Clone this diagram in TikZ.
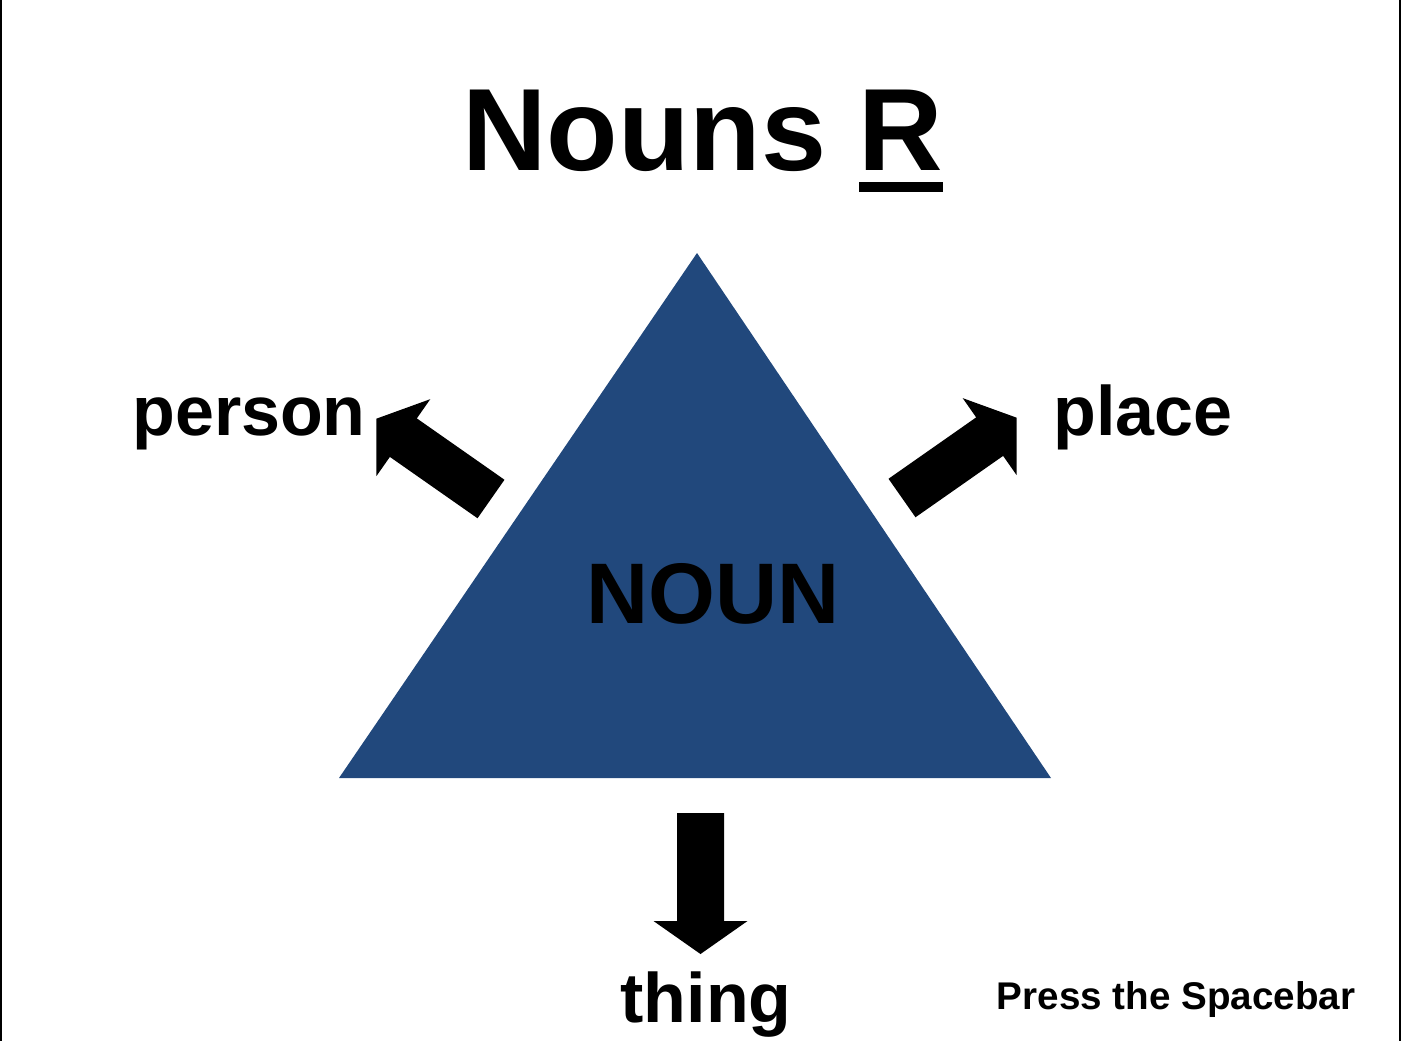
\documentclass[tikz,border=0pt]{standalone}
\usepackage{fontspec}
\setmainfont{Liberation Sans}
\definecolor{Nblue}{RGB}{33,72,124}
\newcommand\ulR{\setbox0\hbox{R}\rlap{\rule[-0.19em]{\wd0}{0.09em}}R}

\begin{document}
\begin{tikzpicture}[x=0.5pt,y=0.5pt,
  lbl/.style={inner sep=0pt,anchor=base,font=\bfseries\fontsize{35}{37}\selectfont},
  blockarrow/.style={fill=black}]
\path[use as bounding box] (0,0) rectangle (1402,-1041);
\draw[line width=1pt] (1,0) -- (1,-1041);
\draw[line width=1pt] (1400,0) -- (1400,-1041);
\node[inner sep=0pt,anchor=base,font=\bfseries\fontsize{58.5}{60}\selectfont] (title) at (703,-170) {Nouns \ulR};
\fill[Nblue] (339,-778) -- (697,-253) -- (1051,-778) -- cycle;
\node[inner sep=0pt,anchor=base,font=\bfseries\fontsize{43}{45}\selectfont] (noun) at (713,-623) {NOUN};
\fill[blockarrow,shift={(491,-499)},rotate=145] (0,-23.5) -- (107,-23.5) -- (107,-47) -- (140,0) -- (107,47) -- (107,23.5) -- (0,23.5) -- cycle;
\fill[blockarrow,shift={(902,-498)},rotate=35] (0,-23.5) -- (107,-23.5) -- (107,-47) -- (140,0) -- (107,47) -- (107,23.5) -- (0,23.5) -- cycle;
\fill[blockarrow,shift={(700.5,-813)},rotate=-90] (0,-23.5) -- (108,-23.5) -- (108,-47) -- (141,0) -- (108,47) -- (108,23.5) -- (0,23.5) -- cycle;
\node[lbl] (person) at (249,-435) {person};
\node[lbl] (place) at (1143,-435) {place};
\node[lbl] (thing) at (706,-1022) {thing};
\node[inner sep=0pt,anchor=base,font=\bfseries\fontsize{19.3}{21}\selectfont] (press) at (1176,-1009) {Press the Spacebar};
\end{tikzpicture}
\end{document}
